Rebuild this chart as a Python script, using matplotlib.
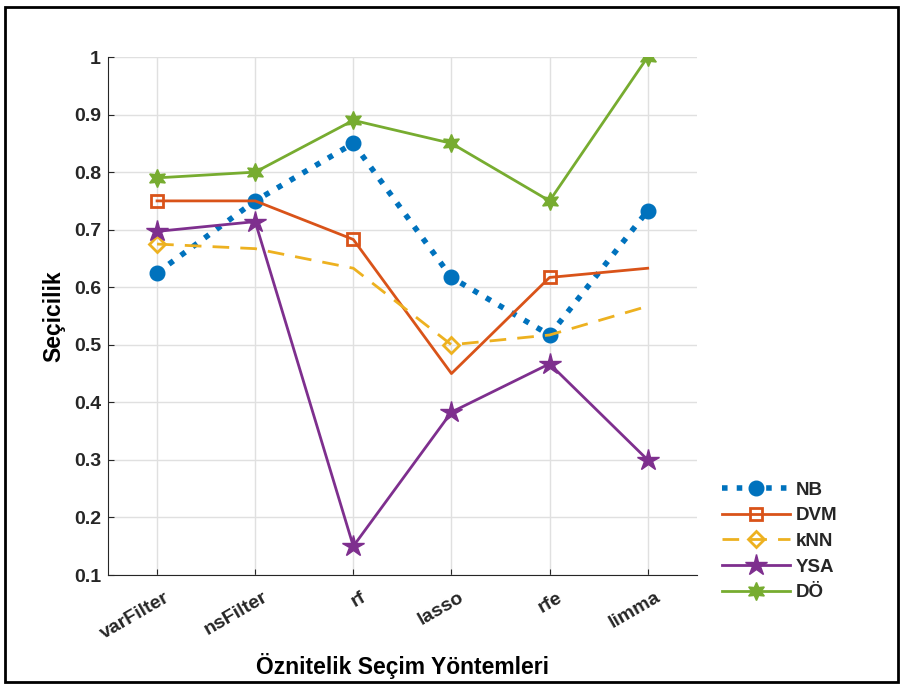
import numpy as np
import matplotlib.pyplot as plt
import matplotlib.transforms as mtransforms
from matplotlib.patches import Rectangle

plt.rcParams['font.family'] = ['Liberation Sans', 'DejaVu Sans']
plt.rcParams['font.weight'] = 'bold'
plt.rcParams['text.color'] = '#262626'

methods = ['varFilter', 'nsFilter', 'rf', 'lasso', 'rfe', 'limma']
nb = [0.625, 0.75, 0.85, 0.617, 0.517, 0.733]
dvm = [0.75, 0.75, 0.683, 0.45, 0.617, 0.633]
knn = [0.675, 0.667, 0.633, 0.5, 0.517, 0.567]
ysa = [0.697, 0.714, 0.15, 0.383, 0.467, 0.3]
do = [0.79, 0.80, 0.89, 0.85, 0.75, 1.0]

x = np.arange(1, len(methods) + 1)
dark = '#262626'

fig = plt.figure(figsize=(9.03, 6.86), dpi=100)
ax = fig.add_axes([0.1196, 0.1618, 0.652, 0.7551])

ax.plot(x, nb, ':', color='#0072BD', lw=4, marker='o', ms=10.5, label='NB')
ax.plot(x, dvm, '-', color='#D95319', lw=2, marker='s', ms=9, mfc='none', mew=2,
        markevery=2, label='DVM')
ax.plot(x, knn, '--', color='#EDB120', lw=2, marker='D', ms=8, mfc='none', mew=2,
        markevery=3, dashes=(6, 4), label='kNN')
ax.plot(x, ysa, '-', color='#7E2F8E', lw=2, marker='*', ms=16, label='YSA')
# six-pointed star for DÖ
ax.plot(x, do, '-', color='#77AC30', lw=2, marker=(6, 1, 0), ms=13, label='DÖ')

ax.set_xlim(0.5, 6.5)
ax.set_ylim(0.1, 1.0)
ax.set_xticks(x)
ax.set_xticklabels(methods, rotation=30, ha='right', rotation_mode='anchor',
                   fontsize=14, fontweight='bold', color=dark)
ax.set_yticks(np.arange(0.1, 1.01, 0.1))
ax.set_yticklabels(['0.1', '0.2', '0.3', '0.4', '0.5', '0.6', '0.7', '0.8', '0.9', '1'],
                   fontsize=14, fontweight='bold', color=dark)
ax.tick_params(direction='in', length=4, color=dark, pad=5)
# nudge the slanted labels right/down (after tick_params, which resets transforms)
shift = mtransforms.ScaledTranslation(0.07, -0.07, fig.dpi_scale_trans)
for tk in ax.xaxis.get_major_ticks():
    tk.label1.set_transform(tk.label1.get_transform() + shift)
ax.grid(True, color='#e0e0e0', lw=1)
ax.set_axisbelow(True)
for s in ['top', 'right']:
    ax.spines[s].set_visible(False)
for s in ['left', 'bottom']:
    ax.spines[s].set_color(dark)

ax.set_xlabel('Öznitelik Seçim Yöntemleri', fontsize=16.5, fontweight='bold', labelpad=8)
ax.set_ylabel('Seçicilik', fontsize=16.5, fontweight='bold', labelpad=6)

leg = ax.legend(loc='lower left', bbox_to_anchor=(1.015, -0.083), frameon=False,
                fontsize=13.5, handlelength=3.6, labelspacing=0.45, handletextpad=0.3)
for t in leg.get_texts():
    t.set_fontweight('bold')

fig.patches.append(Rectangle((0.006, 0.006), 0.988, 0.984, transform=fig.transFigure,
                             fill=False, ec='black', lw=2))

fig.savefig('out.png', dpi=100)
